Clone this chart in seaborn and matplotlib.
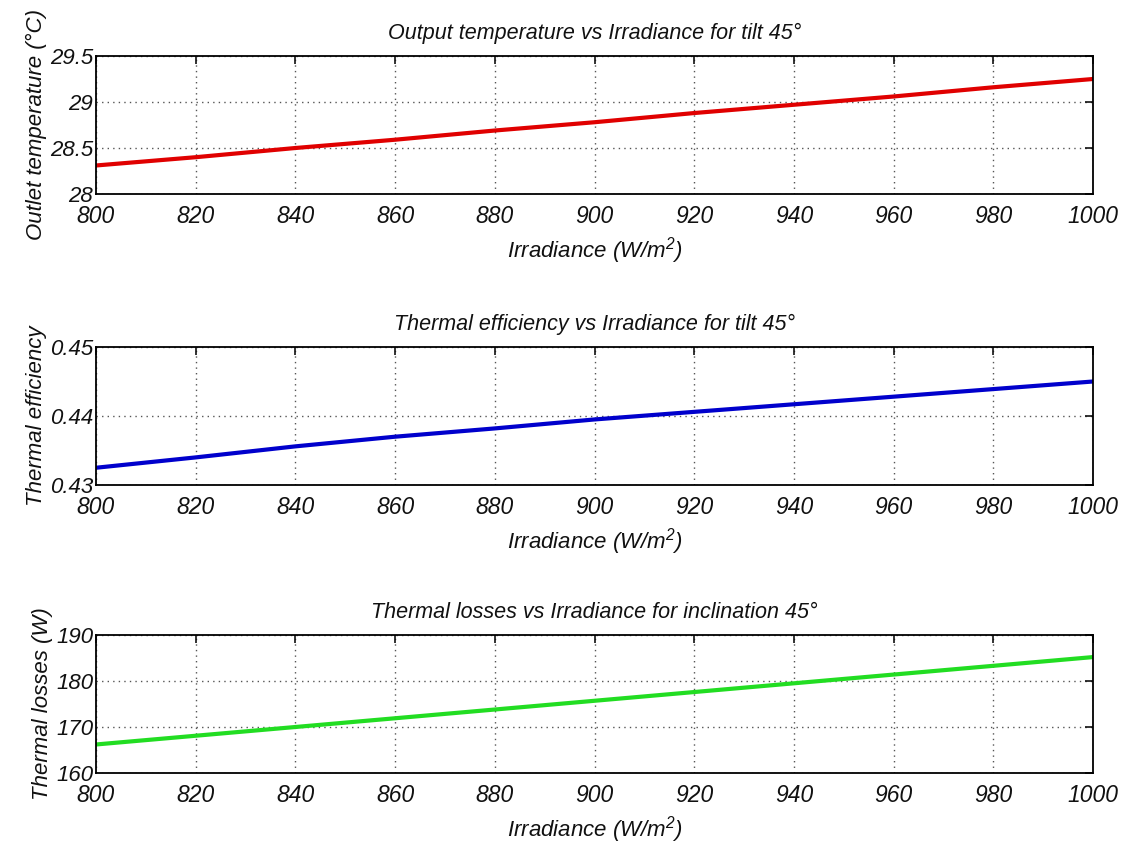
import numpy as np
import pandas as pd
import matplotlib.pyplot as plt
import seaborn as sns

# Values
irradiance = [800, 820, 840, 860, 880, 900, 920, 940, 960, 980, 1000]
outlet_temp = [28.31, 28.40, 28.50, 28.59, 28.69, 28.78, 28.88, 28.97, 29.06, 29.16, 29.25]
thermal_eff = [0.4325, 0.4340, 0.4356, 0.4370, 0.4382, 0.4395, 0.4406, 0.4417, 0.4428, 0.4439, 0.4450]
thermal_loss = [166.2, 168.1, 170.0, 171.9, 173.8, 175.7, 177.6, 179.5, 181.4, 183.3, 185.2]

sns.set_style('white')
plt.rcParams['font.family'] = ['Liberation Sans', 'DejaVu Sans']
plt.rcParams['font.style'] = 'italic'
plt.rcParams['mathtext.fontset'] = 'custom'
plt.rcParams['mathtext.it'] = 'Liberation Sans:italic'
plt.rcParams['mathtext.rm'] = 'Liberation Sans:italic'

df = pd.DataFrame({'G': irradiance, 'T': outlet_temp, 'eta': thermal_eff, 'Q': thermal_loss})

panels = [
    ('T', '#e00000', 'Output temperature vs Irradiance for tilt 45°', 'Outlet temperature (°C)',
     (28, 29.5), [28, 28.5, 29, 29.5], ['28', '28.5', '29', '29.5']),
    ('eta', '#0000cc', 'Thermal efficiency vs Irradiance for tilt 45°', 'Thermal efficiency',
     (0.43, 0.45), [0.43, 0.44, 0.45], ['0.43', '0.44', '0.45']),
    ('Q', '#22dd22', 'Thermal losses vs Irradiance for inclination 45°', 'Thermal losses (W)',
     (160, 190), [160, 170, 180, 190], ['160', '170', '180', '190']),
]

fig = plt.figure(figsize=(11.31, 8.43), dpi=100)
tops = [56, 347, 635]
height = 138
for (col, color, title, ylabel, ylim, yt, ytl), top in zip(panels, tops):
    ax = fig.add_axes([96 / 1131, 1 - (top + height) / 843, (1093 - 96) / 1131, height / 843])
    sns.lineplot(data=df, x='G', y=col, color=color, linewidth=3, ax=ax)
    ax.set_xlim(800, 1000)
    ax.set_ylim(*ylim)
    ax.set_xticks(irradiance)
    ax.set_xticklabels([str(v) for v in irradiance], fontsize=16.5)
    ax.set_yticks(yt)
    ax.set_yticklabels(ytl, fontsize=16)
    ax.tick_params(axis='x', direction='in', length=6, width=1.2, top=True, pad=8, colors='#111111')
    ax.tick_params(axis='y', direction='in', length=6, width=1.2, right=True, pad=2, colors='#111111')
    ax.grid(True, linestyle=(0, (1, 3)), color='#555555', linewidth=1)
    for s in ax.spines.values():
        s.set_color('black')
        s.set_linewidth(1.3)
    ax.set_title(title, fontsize=15.5, pad=12, color='#111111')
    ax.set_xlabel('Irradiance (W/m$^2$)', fontsize=16, labelpad=5, color='#111111')
    ax.set_ylabel(ylabel, fontsize=16, labelpad=2, color='#111111')

fig.savefig('out.png', dpi=100)
